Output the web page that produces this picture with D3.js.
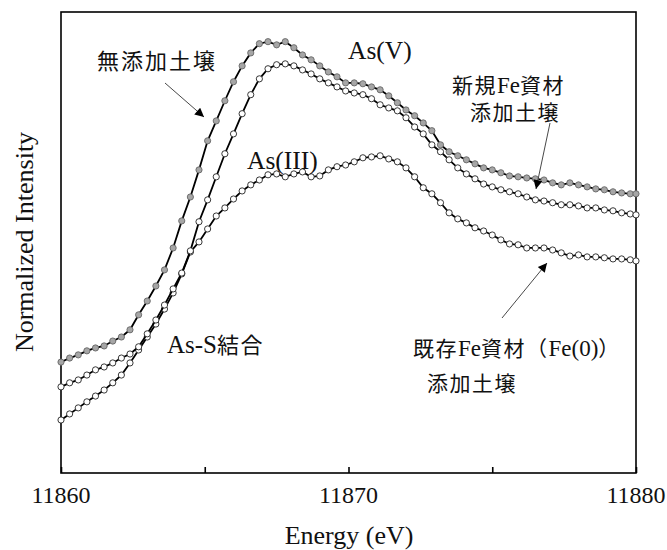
<!DOCTYPE html>
<html>
<head>
<meta charset="utf-8">
<script src="https://d3js.org/d3.v7.min.js"></script>
<style>
  body { margin: 0; background: #fff; }
</style>
</head>
<body>
<svg id="chart" width="667" height="550"></svg>
<script>
const SERIF = '"Liberation Serif", "Times New Roman", serif';
const JP = '"Noto Sans CJK JP", sans-serif';

// energy grid (eV)
const energy = [11860.0, 11860.3, 11860.6, 11860.9, 11861.2, 11861.5, 11861.8, 11862.1, 11862.4, 11862.7,
  11863.0, 11863.3, 11863.6, 11863.9, 11864.2, 11864.5, 11864.8, 11865.1, 11865.4, 11865.7,
  11866.0, 11866.3, 11866.6, 11866.9, 11867.2, 11867.5, 11867.8, 11868.1, 11868.4, 11868.7,
  11869.0, 11869.3, 11869.6, 11869.9, 11870.2, 11870.5, 11870.8, 11871.1, 11871.4, 11871.7,
  11872.0, 11872.3, 11872.6, 11872.9, 11873.2, 11873.5, 11873.8, 11874.1, 11874.4, 11874.7,
  11875.0, 11875.3, 11875.6, 11875.9, 11876.2, 11876.5, 11876.8, 11877.1, 11877.4, 11877.7,
  11878.0, 11878.3, 11878.6, 11878.9, 11879.2, 11879.5, 11879.8, 11880.0];

// 無添加土壌 (gray markers)
const noAdd = [0.385, 0.399, 0.410, 0.424, 0.434, 0.441, 0.458, 0.472, 0.497, 0.549,
  0.597, 0.649, 0.705, 0.781, 0.875, 0.958, 1.052, 1.153, 1.222, 1.292,
  1.358, 1.413, 1.458, 1.490, 1.497, 1.486, 1.497, 1.476, 1.451, 1.434,
  1.413, 1.392, 1.375, 1.354, 1.354, 1.351, 1.340, 1.330, 1.309, 1.285,
  1.260, 1.240, 1.215, 1.188, 1.139, 1.115, 1.101, 1.087, 1.073, 1.059,
  1.052, 1.042, 1.031, 1.028, 1.024, 1.021, 1.017, 1.007, 1.000, 1.007,
  1.000, 0.993, 0.986, 0.983, 0.976, 0.972, 0.969, 0.969];

// 新規Fe資材添加土壌
const newFe = [0.299, 0.313, 0.323, 0.340, 0.358, 0.368, 0.382, 0.399, 0.413, 0.438,
  0.483, 0.531, 0.583, 0.639, 0.694, 0.771, 0.872, 0.948, 1.028, 1.108,
  1.177, 1.247, 1.313, 1.368, 1.403, 1.417, 1.420, 1.413, 1.399, 1.385,
  1.368, 1.354, 1.340, 1.326, 1.319, 1.313, 1.299, 1.278, 1.267, 1.257,
  1.233, 1.201, 1.177, 1.139, 1.115, 1.087, 1.059, 1.038, 1.021, 1.003,
  0.993, 0.983, 0.976, 0.969, 0.958, 0.948, 0.944, 0.938, 0.931, 0.931,
  0.927, 0.920, 0.920, 0.913, 0.910, 0.903, 0.899, 0.896];

// 既存Fe資材(Fe(0))添加土壌
const oldFe = [0.184, 0.205, 0.226, 0.247, 0.267, 0.288, 0.313, 0.340, 0.382, 0.427,
  0.472, 0.517, 0.569, 0.625, 0.691, 0.767, 0.802, 0.847, 0.892, 0.920,
  0.951, 0.979, 1.000, 1.017, 1.035, 1.038, 1.028, 1.038, 1.045, 1.028,
  1.031, 1.052, 1.063, 1.069, 1.080, 1.094, 1.097, 1.101, 1.090, 1.080,
  1.059, 1.028, 0.990, 0.969, 0.938, 0.903, 0.882, 0.868, 0.851, 0.840,
  0.826, 0.809, 0.795, 0.792, 0.781, 0.781, 0.781, 0.774, 0.764, 0.753,
  0.757, 0.750, 0.750, 0.747, 0.743, 0.743, 0.740, 0.736];

const xTicks = [11860, 11865, 11870, 11875, 11880];
const xLabels = [11860, 11870, 11880];

const svg = d3.select("#chart");
const pLeft = 61, pRight = 636, pTop = 12, pBottom = 473;

const x = d3.scaleLinear().domain([11860, 11880]).range([pLeft, pRight]);
const y = d3.scaleLinear().domain([0, 1.6]).range([pBottom, pTop]);

// frame
svg.append("rect")
  .attr("x", pLeft).attr("y", pTop)
  .attr("width", pRight - pLeft).attr("height", pBottom - pTop)
  .attr("fill", "none").attr("stroke", "#000").attr("stroke-width", 1.6);

// x axis, ticks pointing inward (labels drawn separately)
const xAxis = svg.append("g")
  .attr("transform", `translate(0,${pBottom})`)
  .call(d3.axisBottom(x).tickValues(xTicks).tickSize(-6).tickFormat(""));
xAxis.select(".domain").remove();
xAxis.selectAll(".tick line").attr("stroke", "#000").attr("stroke-width", 1.6);

svg.append("g").selectAll("text").data(xLabels).join("text")
  .attr("x", d => x(d)).attr("y", pBottom + 30)
  .attr("text-anchor", "middle")
  .attr("font-family", SERIF).attr("font-size", 24).attr("fill", "#111")
  .text(d => d);

svg.append("text")
  .attr("font-family", SERIF).attr("font-size", 26).attr("fill", "#111")
  .attr("x", 349).attr("y", 544)
  .attr("text-anchor", "middle")
  .text("Energy (eV)");

svg.append("text")
  .attr("font-family", SERIF).attr("font-size", 26).attr("fill", "#111")
  .attr("transform", `translate(33,242) rotate(-90)`)
  .attr("text-anchor", "middle")
  .text("Normalized Intensity");

// curves
const series = [
  { vals: oldFe, fill: "#fff", stroke: "#222" },
  { vals: newFe, fill: "#fff", stroke: "#222" },
  { vals: noAdd, fill: "#a6a6a6", stroke: "#666" }
];

const line = d3.line().x(d => x(d[0])).y(d => y(d[1]));

series.forEach(s => {
  const pts = energy.map((e, i) => [e, s.vals[i]]);
  svg.append("path").datum(pts)
    .attr("d", line).attr("fill", "none")
    .attr("stroke", "#000").attr("stroke-width", 1.8);
  svg.append("g").selectAll("circle").data(pts).join("circle")
    .attr("cx", d => x(d[0])).attr("cy", d => y(d[1]))
    .attr("r", 3.1)
    .attr("fill", s.fill).attr("stroke", s.stroke).attr("stroke-width", 0.9);
});

// arrows
svg.append("defs").append("marker")
  .attr("id", "arr").attr("viewBox", "0 0 10 10")
  .attr("refX", 10).attr("refY", 5)
  .attr("markerWidth", 15).attr("markerHeight", 9)
  .attr("markerUnits", "userSpaceOnUse")
  .attr("orient", "auto")
  .append("path").attr("d", "M0,0 L10,5 L0,10 Z").attr("fill", "#000");

const arrows = [
  [[165, 83], [204, 117]],
  [[550, 123], [536, 189]],
  [[502, 318], [547, 263]]
];
arrows.forEach(a => {
  svg.append("line")
    .attr("x1", a[0][0]).attr("y1", a[0][1])
    .attr("x2", a[1][0]).attr("y2", a[1][1])
    .attr("stroke", "#333").attr("stroke-width", 0.9)
    .attr("marker-end", "url(#arr)");
});

// labels: parts are [text, serif?]
function label(px, py, parts, size, serifSize, spacing) {
  const t = svg.append("text").attr("x", px).attr("y", py).attr("fill", "#111");
  parts.forEach(p => t.append("tspan")
    .attr("font-family", p[1] ? SERIF : JP)
    .attr("font-size", p[1] ? serifSize : size)
    .attr("letter-spacing", p[1] ? 0 : spacing)
    .text(p[0]));
}
label(97, 69, [["無添加土壌", 0]], 22, 24, 2);
label(348, 59, [["As(V)", 1]], 21, 25.5, 0);
label(452, 93, [["新規", 0], ["Fe", 1], ["資材", 0]], 21, 23, 1.5);
label(470, 120, [["添加土壌", 0]], 21, 23, 1.5);
label(247, 169, [["As(III)", 1]], 21, 25.5, 0);
label(167, 353, [["As-S", 1], ["結合", 0]], 22, 25, 1.5);
label(413, 356, [["既存", 0], ["Fe", 1], ["資材（", 0], ["Fe(0)", 1], ["）", 0]], 21, 23, 1.5);
label(427, 391, [["添加土壌", 0]], 21, 23, 1.5);
</script>
</body>
</html>
